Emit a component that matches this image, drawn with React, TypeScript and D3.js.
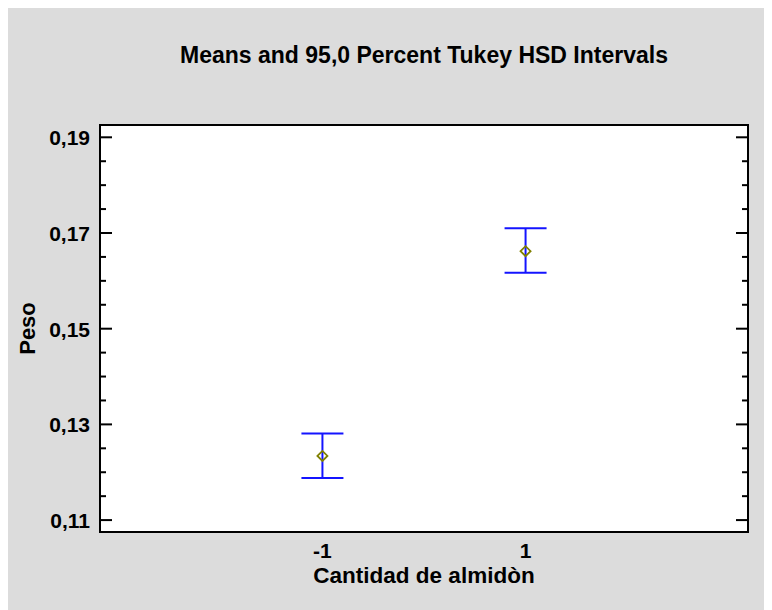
import React, { useEffect, useRef } from 'react';
import * as d3 from 'd3';

const levels = [-1, 1];
const levelLabels = ['-1', '1'];
const means = [0.1234, 0.1662];
const lower = [0.1188, 0.1617];
const upper = [0.1281, 0.1710];
const majorTicks = [0.11, 0.13, 0.15, 0.17, 0.19];
const minorTicks = [0.115, 0.12, 0.125, 0.135, 0.14, 0.145, 0.155, 0.16, 0.165, 0.175, 0.18, 0.185];

const fmt = (v: number) => v.toFixed(2).replace('.', ',');

export default function App() {
  const ref = useRef<SVGSVGElement>(null);

  useEffect(() => {
    const width = 764;
    const height = 602;
    // page coords minus body margin
    const left = 92, right = 740, top = 117, bottom = 524;

    const svg = d3.select(ref.current);
    svg.selectAll('*').remove();
    svg.attr('width', width).attr('height', height);

    svg.append('rect').attr('width', width).attr('height', height).attr('fill', '#dcdcdc');
    svg.append('rect')
      .attr('x', left).attr('y', top)
      .attr('width', right - left).attr('height', bottom - top)
      .attr('fill', '#fff').attr('stroke', '#000').attr('stroke-width', 2);

    const x = d3.scaleLinear().domain([-3.19, 3.19]).range([left, right]);
    const y = d3.scaleLinear().domain([0.10751, 0.19257]).range([bottom, top]);

    const font = 'Liberation Sans, Arial, sans-serif';

    // ticks on left and right sides, pointing inward
    const ticks = svg.append('g').attr('stroke', '#000').attr('stroke-width', 2);
    majorTicks.forEach((t) => {
      ticks.append('line').attr('x1', left).attr('x2', left + 12).attr('y1', y(t)).attr('y2', y(t));
      ticks.append('line').attr('x1', right).attr('x2', right - 12).attr('y1', y(t)).attr('y2', y(t));
    });
    minorTicks.forEach((t) => {
      ticks.append('line').attr('x1', left).attr('x2', left + 6).attr('y1', y(t)).attr('y2', y(t));
      ticks.append('line').attr('x1', right).attr('x2', right - 6).attr('y1', y(t)).attr('y2', y(t));
    });

    svg.append('g').selectAll('text').data(majorTicks).enter().append('text')
      .attr('x', left - 10).attr('y', (d) => y(d) + 8)
      .attr('text-anchor', 'end')
      .style('font', `bold 21px ${font}`)
      .text((d) => fmt(d));

    svg.append('g').selectAll('text').data(levels).enter().append('text')
      .attr('x', (d) => x(d)).attr('y', 550)
      .attr('text-anchor', 'middle')
      .style('font', `bold 21px ${font}`)
      .text((d, i) => levelLabels[i]);

    // intervals
    const g = svg.append('g');
    levels.forEach((lv, i) => {
      const cx = x(lv);
      g.append('line').attr('x1', cx).attr('x2', cx).attr('y1', y(lower[i])).attr('y2', y(upper[i]))
        .attr('stroke', '#1414ff').attr('stroke-width', 2);
      [lower[i], upper[i]].forEach((v) => {
        g.append('line').attr('x1', cx - 21).attr('x2', cx + 21).attr('y1', y(v)).attr('y2', y(v))
          .attr('stroke', '#1414ff').attr('stroke-width', 2);
      });
      const my = y(means[i]);
      g.append('path')
        .attr('d', `M${cx - 5},${my}L${cx},${my - 5}L${cx + 5},${my}L${cx},${my + 5}Z`)
        .attr('fill', 'none').attr('stroke', '#808000').attr('stroke-width', 1.8);
    });

    svg.append('text')
      .attr('x', (left + right) / 2).attr('y', 55)
      .attr('text-anchor', 'middle')
      .style('font', `bold 23px ${font}`)
      .text('Means and 95,0 Percent Tukey HSD Intervals');

    svg.append('text')
      .attr('x', (left + right) / 2).attr('y', 575)
      .attr('text-anchor', 'middle')
      .style('font', `bold 22.5px ${font}`)
      .text('Cantidad de almidòn');

    svg.append('text')
      .attr('transform', `translate(27,${(top + bottom) / 2}) rotate(-90)`)
      .attr('text-anchor', 'middle')
      .style('font', `bold 22px ${font}`)
      .text('Peso');
  }, []);

  return <svg ref={ref} style={{ display: 'block' }}></svg>;
}
